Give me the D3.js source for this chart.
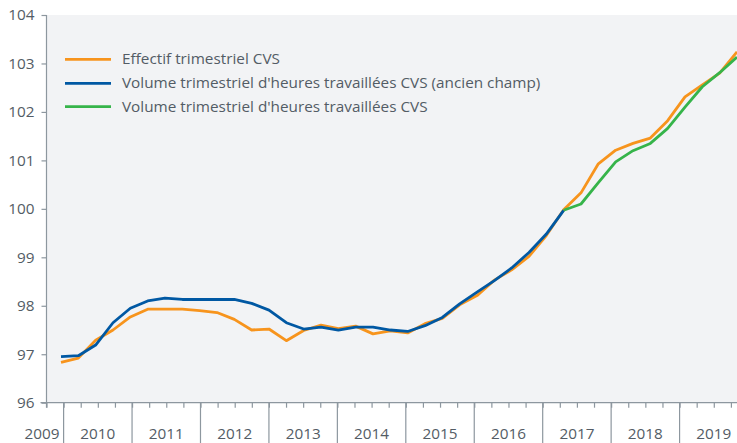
<!DOCTYPE html>
<html>
<head>
<meta charset="utf-8">
<script src="https://cdn.jsdelivr.net/npm/d3@7"></script>
<style>
  html, body { margin: 0; padding: 0; background: #ffffff; }
  svg { display: block; }
  text { font-family: "Open Sans", "Noto Sans", sans-serif; fill: #535c65; }
</style>
</head>
<body>
<svg id="chart" width="737" height="443"></svg>
<script>
// Quarters from 2009 T4 to 2019 T3
const quarters = [];
for (let y = 2009; y <= 2019; y++) for (let q = 1; q <= 4; q++) {
  if ((y === 2009 && q < 4) || (y === 2019 && q > 3)) continue;
  quarters.push(y + "-T" + q);
}

const seriesNames = [
  "Effectif trimestriel CVS",
  "Volume trimestriel d'heures travaillées CVS (ancien champ)",
  "Volume trimestriel d'heures travaillées CVS"
];
const seriesColors = ["#f7941d", "#0058a3", "#36b44a"];

const effectif = [96.83, 96.92, 97.29, 97.50, 97.77, 97.93, 97.93, 97.93, 97.90, 97.86,
  97.72, 97.50, 97.52, 97.28, 97.49, 97.60, 97.53, 97.58, 97.42, 97.48,
  97.44, 97.63, 97.74, 98.02, 98.21, 98.53, 98.74, 99.02, 99.45, 99.98,
  100.33, 100.93, 101.21, 101.35, 101.46, 101.82, 102.31, 102.56, 102.80, 103.24];

// ancien champ : 2009 T4 .. 2017 T1
const volumeAncien = [96.95, 96.97, 97.19, 97.65, 97.95, 98.10, 98.16, 98.13, 98.13, 98.13,
  98.13, 98.05, 97.91, 97.65, 97.52, 97.56, 97.50, 97.56, 97.56, 97.50,
  97.47, 97.59, 97.76, 98.04, 98.28, 98.52, 98.78, 99.10, 99.48, 99.97];

// nouveau champ : 2017 T1 .. 2019 T3
const volumeNouveau = [99.97, 100.10, 100.54, 100.97, 101.20, 101.35, 101.66, 102.10, 102.52, 102.81, 103.13];
const volumeNouveauStart = 29;

const yTicks = [96, 97, 98, 99, 100, 101, 102, 103, 104];
const yearLabels = [2009, 2010, 2011, 2012, 2013, 2014, 2015, 2016, 2017, 2018, 2019];

const svg = d3.select("#chart");
const W = 737, H = 443;
const plotLeft = 46.5, plotTop = 15, plotBottom = 402.7, plotRight = 737;

// Scales
const y = d3.scaleLinear().domain([96, 104]).range([plotBottom, plotTop]);
const xData = d3.scalePoint().domain(quarters).range([61, 737]);
// Axis scale in years (tick every quarter)
const xYear = d3.scaleLinear().domain([2009.75, 2019.75]).range([plotLeft, plotLeft + 10 * 68.44]);

// Plot background
svg.append("rect")
  .attr("x", plotLeft).attr("y", plotTop)
  .attr("width", plotRight - plotLeft).attr("height", plotBottom - plotTop)
  .attr("fill", "#f2f3f5");

const axisColor = "#8d979f";

// Y axis
const yAxis = d3.axisLeft(y).tickValues(yTicks).tickSize(5).tickPadding(7).tickFormat(d3.format("d"));
const gy = svg.append("g").attr("transform", `translate(${plotLeft},0)`).call(yAxis);
gy.select(".domain").remove();
gy.selectAll(".tick line").attr("stroke", axisColor).attr("stroke-width", 1.2);
gy.selectAll(".tick text").attr("font-size", 15.3).attr("fill", "#535c65")
  .attr("font-family", "'Open Sans', 'Noto Sans', sans-serif");
svg.append("line")
  .attr("x1", plotLeft).attr("x2", plotLeft)
  .attr("y1", plotTop).attr("y2", plotBottom + 5)
  .attr("stroke", axisColor).attr("stroke-width", 1.2);

// X axis: quarter ticks
const quarterTicks = d3.range(2009.75, 2019.76 + 0.25, 0.25).filter(v => xYear(v) <= W);
const xAxis = d3.axisBottom(xYear).tickValues(quarterTicks).tickSize(5).tickFormat("");
const gx = svg.append("g").attr("transform", `translate(0,${plotBottom})`).call(xAxis);
gx.select(".domain").remove();
gx.selectAll(".tick line").attr("stroke", axisColor).attr("stroke-width", 1.2);
svg.append("line")
  .attr("x1", plotLeft - 6).attr("x2", W)
  .attr("y1", plotBottom).attr("y2", plotBottom)
  .attr("stroke", axisColor).attr("stroke-width", 1.2);

// Year separators
const yearBounds = d3.range(2010, 2020);
svg.append("g").selectAll("line").data(yearBounds).join("line")
  .attr("x1", d => xYear(d)).attr("x2", d => xYear(d))
  .attr("y1", plotBottom).attr("y2", H)
  .attr("stroke", axisColor).attr("stroke-width", 1.2);

// Year labels
svg.append("g").selectAll("text").data(yearLabels).join("text")
  .attr("x", d => d === 2009 ? xYear(2010) - 4 : xYear(d + 0.5))
  .attr("y", 438.5)
  .attr("text-anchor", d => d === 2009 ? "end" : "middle")
  .attr("font-size", 15.3)
  .text(d => d);

// Lines
const line = d3.line().x(d => xData(d.q)).y(d => y(d.v));
const effData = effectif.map((v, i) => ({ q: quarters[i], v }));
const ancData = volumeAncien.map((v, i) => ({ q: quarters[i], v }));
const nouvData = volumeNouveau.map((v, i) => ({ q: quarters[volumeNouveauStart + i], v }));

const gLines = svg.append("g");
[[effData, seriesColors[0]], [ancData, seriesColors[1]], [nouvData, seriesColors[2]]].forEach(([data, c]) => {
  gLines.append("path").datum(data)
    .attr("d", line)
    .attr("fill", "none")
    .attr("stroke", c)
    .attr("stroke-width", 2.8)
    .attr("stroke-linejoin", "round");
});

// Legend
const legend = svg.append("g");
const legY = [59.3, 83.3, 106.7];
seriesNames.forEach((name, i) => {
  legend.append("line")
    .attr("x1", 65).attr("x2", 111)
    .attr("y1", legY[i]).attr("y2", legY[i])
    .attr("stroke", seriesColors[i]).attr("stroke-width", 2.8);
  legend.append("text")
    .attr("x", 122).attr("y", legY[i] + 5)
    .attr("font-size", 15.3)
    .attr("fill", "#4f5862")
    .text(name);
});
</script>
</body>
</html>
